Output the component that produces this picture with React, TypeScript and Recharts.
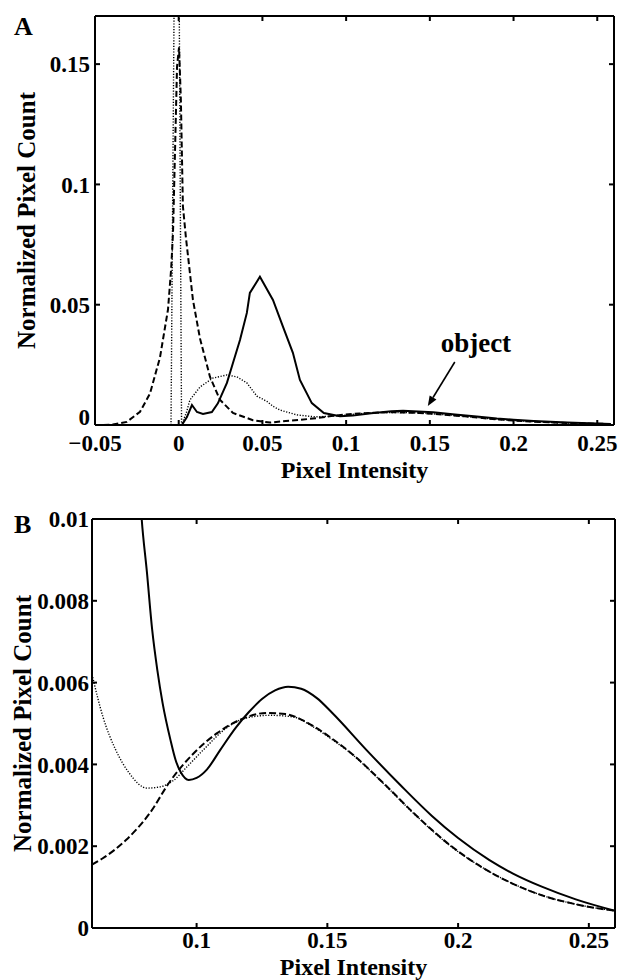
import React from 'react';
import { LineChart, Line, XAxis, YAxis, ReferenceLine, ReferenceDot } from 'recharts';

const FONT = '"Liberation Serif", "Times New Roman", Times, serif';

// ---------- Panel A ----------
const xTicksA = [-0.05, 0, 0.05, 0.1, 0.15, 0.2, 0.25];
const yTicksA = [0, 0.05, 0.1, 0.15];

const solidA = [
  [0.0019, 0], [0.0049, 0.0033], [0.0079, 0.0083], [0.0109, 0.0054], [0.0145, 0.0046],
  [0.0198, 0.0054], [0.0234, 0.009], [0.0288, 0.0175], [0.0324, 0.0258], [0.0366, 0.0353],
  [0.0407, 0.0466], [0.0425, 0.0549], [0.0485, 0.0616], [0.0563, 0.052], [0.0622, 0.041],
  [0.0682, 0.03], [0.0724, 0.0187], [0.0795, 0.0091], [0.0867, 0.005], [0.0963, 0.0036],
  [0.104, 0.0039], [0.115, 0.0049], [0.127, 0.0057], [0.134, 0.0059], [0.152, 0.0053],
  [0.165, 0.0044], [0.178, 0.0035], [0.19, 0.0027], [0.2, 0.0022], [0.212, 0.0017],
  [0.232, 0.001], [0.245, 0.0007], [0.258, 0.0004],
];

const dashedA = [
  [-0.045, 0], [-0.0393, 0.0002], [-0.031, 0.0013], [-0.0231, 0.0055], [-0.0172, 0.013],
  [-0.0112, 0.028], [-0.0064, 0.048], [-0.0045, 0.065], [-0.0034, 0.08], [-0.0022, 0.114],
  [-0.001, 0.149], [0.0002, 0.157], [0.0013, 0.135], [0.0025, 0.091], [0.0043, 0.078],
  [0.0085, 0.052], [0.0127, 0.036], [0.0187, 0.02], [0.0246, 0.0105], [0.0324, 0.005],
  [0.0443, 0.002], [0.0545, 0.001], [0.064, 0.0017], [0.073, 0.0022], [0.082, 0.0028],
  [0.09, 0.0036], [0.099, 0.0043], [0.108, 0.0048], [0.117, 0.0051], [0.127, 0.0053],
  [0.134, 0.0052], [0.144, 0.005], [0.159, 0.0043], [0.171, 0.0036], [0.184, 0.0027],
  [0.197, 0.002], [0.21, 0.00145], [0.221, 0.0011], [0.232, 0.0008], [0.245, 0.0006],
  [0.258, 0.0004],
];

const dottedA = [
  [-0.0046, 0], [-0.001, 0.34], [0.0017, 0], [0.0045, 0.005], [0.0067, 0.0104],
  [0.0127, 0.0158], [0.0204, 0.0195], [0.0288, 0.0208], [0.0348, 0.02], [0.0407, 0.0175],
  [0.0467, 0.012], [0.0527, 0.0098], [0.0563, 0.0078], [0.0605, 0.0062], [0.0706, 0.0042],
  [0.081, 0.0034], [0.091, 0.0036], [0.1025, 0.0043], [0.1116, 0.0049], [0.1193, 0.0051],
  [0.128, 0.0052], [0.137, 0.0052], [0.144, 0.005], [0.159, 0.0043], [0.171, 0.0036],
  [0.184, 0.0027], [0.197, 0.002], [0.21, 0.00145], [0.221, 0.0011], [0.232, 0.0008],
  [0.245, 0.0006], [0.258, 0.0004],
];

// annotation "object" (data coordinates)
const objectLabel = { x: 0.1775, y: 0.0343, text: 'object' };
const objectArrow = [{ x: 0.1649, y: 0.0262 }, { x: 0.1488, y: 0.0079 }];

// ---------- Panel B ----------
const xTicksB = [0.1, 0.15, 0.2, 0.25];
const yTicksB = [0, 0.002, 0.004, 0.006, 0.008, 0.01];

const solidB = [
  [0.0682, 0.03], [0.0724, 0.0187], [0.076, 0.0135], [0.079, 0.01], [0.081, 0.0087],
  [0.083, 0.0073], [0.085, 0.0063], [0.087, 0.0055], [0.09, 0.0046], [0.092, 0.0041],
  [0.094, 0.0038], [0.097, 0.00362], [0.1, 0.00367], [0.104, 0.00388], [0.109, 0.00435],
  [0.115, 0.0049], [0.12, 0.00528], [0.125, 0.0056], [0.13, 0.00581], [0.135, 0.0059],
  [0.14, 0.00585], [0.146, 0.00562], [0.152, 0.00525], [0.165, 0.00435], [0.178, 0.00349],
  [0.19, 0.00274], [0.2, 0.0022], [0.212, 0.00166], [0.221, 0.00133], [0.232, 0.00101],
  [0.245, 0.0007], [0.26, 0.00042],
];

const dashedB = [
  [0.06, 0.00155], [0.064, 0.0017], [0.073, 0.00215], [0.082, 0.0028], [0.09, 0.0036],
  [0.099, 0.00428], [0.108, 0.00477], [0.117, 0.0051], [0.127, 0.00526], [0.134, 0.00523],
  [0.144, 0.00496], [0.152, 0.00462], [0.159, 0.00428], [0.171, 0.00357], [0.184, 0.00275],
  [0.197, 0.00202], [0.21, 0.00145], [0.221, 0.00108], [0.232, 0.0008], [0.245, 0.00058],
  [0.26, 0.00042],
];

const dottedB = [
  [0.06, 0.0062], [0.0642, 0.00516], [0.0691, 0.00435], [0.0741, 0.0038], [0.081, 0.00342],
  [0.086, 0.00345], [0.091, 0.0036], [0.0963, 0.00394], [0.1025, 0.00435], [0.1116, 0.0049],
  [0.1193, 0.00514], [0.128, 0.0052], [0.137, 0.00516], [0.144, 0.00494], [0.152, 0.0046],
  [0.159, 0.00427], [0.171, 0.00356], [0.184, 0.00274], [0.197, 0.00201], [0.21, 0.00145],
  [0.221, 0.00108], [0.232, 0.0008], [0.245, 0.00058], [0.26, 0.00042],
];

const toPts = (arr: number[][]) => arr.map(([x, y]) => ({ x, y }));

const tickStyle = { fill: '#000', fontSize: 23, fontWeight: 700, fontFamily: FONT };
const axisLineStyle = { stroke: '#000', strokeWidth: 2 };
const tickLineStyle = { stroke: '#000', strokeWidth: 2 };
const fmt = (v: number) => (v < 0 ? '\u2212' + String(Math.abs(v)) : String(v));
const blank = () => '';

const labelFont = { fill: '#000', fontSize: 25, fontWeight: 700, fontFamily: FONT };
const labelFontX = { fill: '#000', fontSize: 24, fontWeight: 700, fontFamily: FONT };

// left-axis tick for panel A: the "0" label sits slightly above the corner, as in the reference
const YTickA = (p: any) => {
  const { x, y, payload } = p;
  const v = payload.value;
  return (
    <text x={x} y={y + (v === 0 ? -8 : 0)} dy="0.355em" textAnchor="end" {...tickStyle}>
      {fmt(v)}
    </text>
  );
};

const arrowShape = (p: any) => {
  const { x1, y1, x2, y2 } = p;
  const dx = x2 - x1;
  const dy = y2 - y1;
  const len = Math.sqrt(dx * dx + dy * dy) || 1;
  const ux = dx / len;
  const uy = dy / len;
  const hl = 10;
  const hw = 4;
  const bx = x2 - ux * hl;
  const by = y2 - uy * hl;
  const pts = `${x2},${y2} ${bx - uy * hw},${by + ux * hw} ${bx + uy * hw},${by - ux * hw}`;
  return (
    <g>
      <line x1={x1} y1={y1} x2={bx} y2={by} stroke="#000" strokeWidth={1.6} />
      <polygon points={pts} fill="#000" />
    </g>
  );
};

function PanelA() {
  return (
    <LineChart width={619} height={490} margin={{ top: 15, right: 4, bottom: 12, left: 0 }}>
      <XAxis
        xAxisId="b" type="number" dataKey="x" domain={[-0.05, 0.26]} ticks={xTicksA}
        allowDataOverflow interval={0} tickSize={-5} tickMargin={15} tick={tickStyle}
        tickFormatter={fmt} axisLine={axisLineStyle} tickLine={tickLineStyle} height={53}
        label={{ value: 'Pixel Intensity', position: 'insideBottom', offset: 0, ...labelFontX }}
      />
      <XAxis
        xAxisId="t" orientation="top" type="number" dataKey="x" domain={[-0.05, 0.26]} ticks={xTicksA}
        allowDataOverflow interval={0} tickSize={-5} tickFormatter={blank} axisLine={axisLineStyle}
        tickLine={tickLineStyle} height={1}
      />
      <YAxis
        yAxisId="l" type="number" domain={[0, 0.17]} ticks={yTicksA} allowDataOverflow interval={0}
        width={95} tickSize={-5} tickMargin={10} tick={YTickA}
        axisLine={axisLineStyle} tickLine={tickLineStyle}
        label={{ value: 'Normalized Pixel Count', angle: -90, position: 'insideLeft', offset: 26, style: { textAnchor: 'middle' }, ...labelFont }}
      />
      <YAxis
        yAxisId="r" orientation="right" type="number" domain={[0, 0.17]} ticks={yTicksA}
        allowDataOverflow interval={0} width={1} tickSize={-5} tickFormatter={blank}
        axisLine={axisLineStyle} tickLine={tickLineStyle}
      />
      <Line xAxisId="b" yAxisId="l" data={toPts(dottedA)} dataKey="y" type="linear" stroke="#000"
        strokeWidth={1.4} strokeDasharray="1.2 1.6" dot={false} activeDot={false} isAnimationActive={false} />
      <Line xAxisId="b" yAxisId="l" data={toPts(dashedA)} dataKey="y" type="linear" stroke="#000"
        strokeWidth={2} strokeDasharray="6 3" dot={false} activeDot={false} isAnimationActive={false} />
      <Line xAxisId="b" yAxisId="l" data={toPts(solidA)} dataKey="y" type="linear" stroke="#000"
        strokeWidth={2} dot={false} activeDot={false} isAnimationActive={false} />
      <ReferenceLine xAxisId="b" yAxisId="l" segment={objectArrow} shape={arrowShape} ifOverflow="visible" />
      <ReferenceDot xAxisId="b" yAxisId="l" x={objectLabel.x} y={objectLabel.y} r={0} fill="none" stroke="none"
        ifOverflow="visible"
        label={{ value: objectLabel.text, position: 'center', fill: '#000', fontSize: 27, fontWeight: 700, fontFamily: FONT }} />
    </LineChart>
  );
}

function PanelB() {
  return (
    <LineChart width={619} height={490} margin={{ top: 28, right: 3, bottom: 3, left: 0 }}>
      <XAxis
        xAxisId="b" type="number" dataKey="x" domain={[0.06, 0.26]} ticks={xTicksB}
        allowDataOverflow interval={0} tickSize={-5} tickMargin={9} tick={tickStyle}
        tickFormatter={fmt} axisLine={axisLineStyle} tickLine={tickLineStyle} height={49}
        label={{ value: 'Pixel Intensity', position: 'insideBottom', offset: 2, ...labelFontX }}
      />
      <XAxis
        xAxisId="t" orientation="top" type="number" dataKey="x" domain={[0.06, 0.26]} ticks={xTicksB}
        allowDataOverflow interval={0} tickSize={-5} tickFormatter={blank} axisLine={axisLineStyle}
        tickLine={tickLineStyle} height={1}
      />
      <YAxis
        yAxisId="l" type="number" domain={[0, 0.01]} ticks={yTicksB} allowDataOverflow interval={0}
        width={92} tickSize={-5} tickMargin={8} tick={tickStyle} tickFormatter={fmt}
        axisLine={axisLineStyle} tickLine={tickLineStyle}
        label={{ value: 'Normalized Pixel Count', angle: -90, position: 'insideLeft', offset: 22, style: { textAnchor: 'middle' }, ...labelFont }}
      />
      <YAxis
        yAxisId="r" orientation="right" type="number" domain={[0, 0.01]} ticks={yTicksB}
        allowDataOverflow interval={0} width={1} tickSize={-5} tickFormatter={blank}
        axisLine={axisLineStyle} tickLine={tickLineStyle}
      />
      <Line xAxisId="b" yAxisId="l" data={toPts(dottedB)} dataKey="y" type="monotone" stroke="#000"
        strokeWidth={1.4} strokeDasharray="1.2 1.6" dot={false} activeDot={false} isAnimationActive={false} />
      <Line xAxisId="b" yAxisId="l" data={toPts(dashedB)} dataKey="y" type="monotone" stroke="#000"
        strokeWidth={2} strokeDasharray="7 3" dot={false} activeDot={false} isAnimationActive={false} />
      <Line xAxisId="b" yAxisId="l" data={toPts(solidB)} dataKey="y" type="monotone" stroke="#000"
        strokeWidth={2} dot={false} activeDot={false} isAnimationActive={false} />
    </LineChart>
  );
}

export default function App() {
  return (
    <div style={{ position: 'absolute', left: 0, top: 0, width: 619, height: 980, background: '#fff' }}>
      <div style={{ position: 'absolute', left: 0, top: 0 }}>
        <PanelA />
      </div>
      <div style={{ position: 'absolute', left: 0, top: 490 }}>
        <PanelB />
      </div>
      <svg width={619} height={980} style={{ position: 'absolute', left: 0, top: 0, pointerEvents: 'none' }}>
        <text x={14} y={35} fontSize={26} fontWeight={700} fontFamily={FONT} fill="#000">A</text>
        <text x={14} y={533} fontSize={26} fontWeight={700} fontFamily={FONT} fill="#000">B</text>
      </svg>
    </div>
  );
}
